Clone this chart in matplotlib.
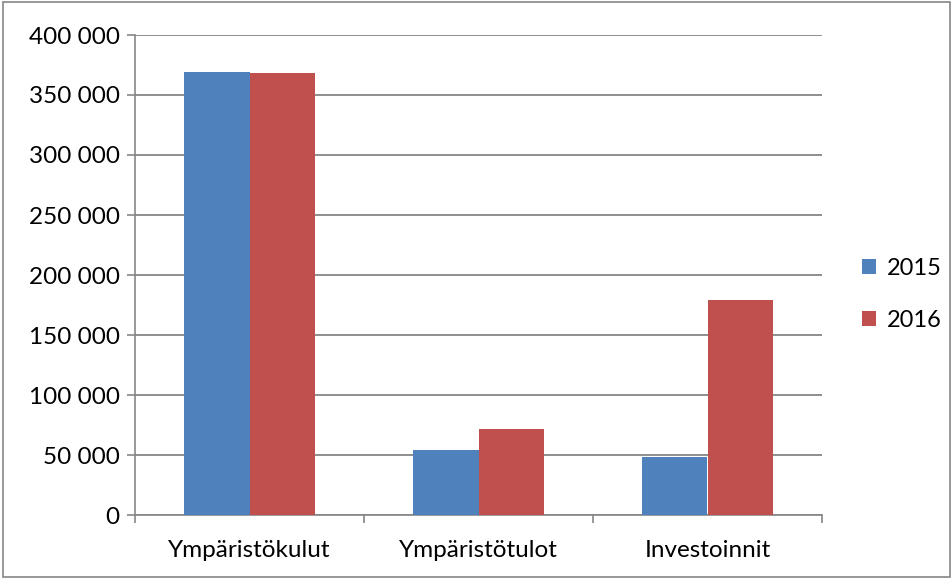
import matplotlib.pyplot as plt
import matplotlib.ticker as mticker
from matplotlib.patches import Rectangle
import numpy as np

categories = ["Ympäristökulut", "Ympäristötulot", "Investoinnit"]
years = ["2015", "2016"]
values_2015 = [369000, 54000, 48000]
values_2016 = [368000, 71500, 179000]
colors = ["#4f81bd", "#c0504d"]

plt.rcParams['font.family'] = ['Lato', 'DejaVu Sans']

fig = plt.figure(figsize=(9.53, 5.79), dpi=100)
ax = fig.add_axes([135 / 953, 64 / 579, 687 / 953, 480 / 579])

# outer frame around the chart area
fig.patches.append(Rectangle((3 / 953, 2 / 579), 947 / 953, 575 / 579,
                             transform=fig.transFigure, fill=False,
                             edgecolor="#868686", linewidth=1.2))

x = np.arange(len(categories))
w = 0.285
ax.bar(x - w / 2, values_2015, w, color=colors[0], label=years[0], zorder=3)
ax.bar(x + w / 2, values_2016, w, color=colors[1], label=years[1], zorder=3)

ax.set_xlim(-0.5, len(categories) - 0.5)
ax.set_ylim(0, 400000)
ax.yaxis.set_major_locator(mticker.MultipleLocator(50000))
ax.yaxis.set_major_formatter(mticker.FuncFormatter(lambda v, p: f"{int(v):,}".replace(",", " ")))
ax.grid(axis="y", color="#868686", linewidth=1.3, zorder=0)

ax.set_xticks(x)
ax.set_xticklabels(categories)
ax.set_xticks(np.arange(len(categories) + 1) - 0.5, minor=True)
ax.tick_params(axis="x", which="major", length=0, pad=18, labelsize=17.5)
ax.tick_params(axis="x", which="minor", length=6, color="#868686", width=1.2)
ax.tick_params(axis="y", length=6, color="#868686", width=1.2, labelsize=17.5, pad=5)

for s in ["top", "right"]:
    ax.spines[s].set_visible(False)
for s in ["left", "bottom"]:
    ax.spines[s].set_color("#868686")
    ax.spines[s].set_linewidth(1.2)

ax.legend(loc="center left", bbox_to_anchor=(1.027, 0.46), frameon=False,
          fontsize=17, handlelength=0.6, handleheight=0.6,
          labelspacing=1.3, handletextpad=0.45)

fig.savefig("out.png", dpi=100)
